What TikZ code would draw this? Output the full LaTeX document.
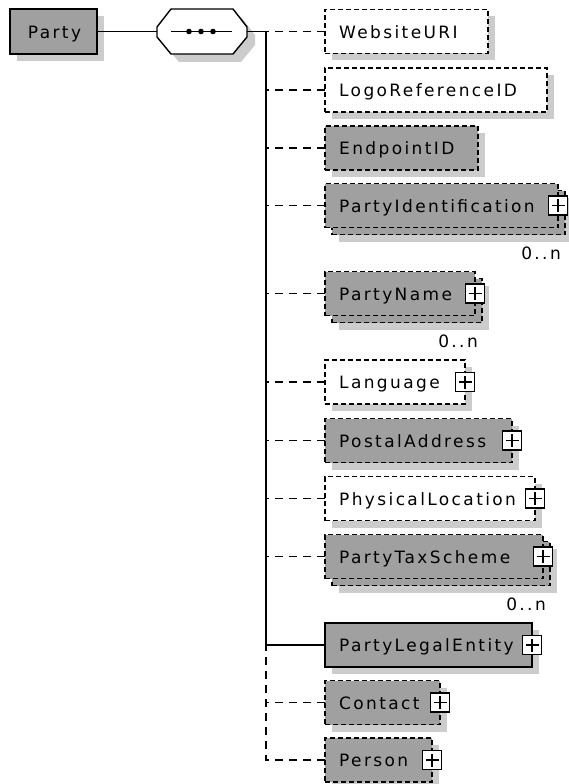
\documentclass[tikz,border=0pt]{standalone}
\usepackage{fontspec}
\newfontfamily\lblfont{DejaVu Sans}[LetterSpace=14]
\usetikzlibrary{calc}
\definecolor{boxgray}{RGB}{160,160,160}
\definecolor{shadgray}{RGB}{204,204,204}
\tikzset{
  base/.style={line width=1.3pt, minimum height=44pt, inner sep=0pt, outer sep=0pt},
  shadowbox/.style={base, fill=shadgray, draw=none},
  whitebox/.style={base, draw=black, fill=white, dash pattern=on 5pt off 3pt},
  graybox/.style={base, draw=black, fill=boxgray, dash pattern=on 5pt off 3pt},
  solidbox/.style={base, draw=black, fill=boxgray},
  lbl/.style={inner sep=0pt, font=\lblfont\fontsize{17}{20}\selectfont, text=black},
  conn/.style={line width=1.4pt},
  dconn/.style={line width=1.4pt, dash pattern=on 8pt off 6pt},
  plusbox/.style={draw=black, fill=white, line width=1.3pt, minimum size=19pt, inner sep=0pt},
}
\newcommand{\plusicon}[2]{%
  \node[plusbox] (#1) at (#2.east) {};
  \draw[line width=1.5pt] ([xshift=-6.5pt]#1.center) -- ([xshift=6.5pt]#1.center)
    ([yshift=-6.5pt]#1.center) -- ([yshift=6.5pt]#1.center);
}
\newcommand{\kidsingle}[5]{%
  \node[shadowbox, minimum width=#3pt, anchor=west] at (332,#2+7) {};
  \node[#4, minimum width=#3pt, anchor=west] (#1) at (325,#2) {};
  \node[lbl, anchor=base west] at ($(#1.west)+(14,6.5)$) {#5};
}
\newcommand{\kidmulti}[5]{%
  \node[shadowbox, minimum width=#3pt, anchor=west] at (339,#2+14) {};
  \node[#4, minimum width=#3pt, anchor=west] at (332,#2+7) {};
  \node[#4, minimum width=#3pt, anchor=west] (#1) at (325,#2) {};
  \node[lbl, anchor=base west] at ($(#1.west)+(14,6.5)$) {#5};
}
\begin{document}
\begin{tikzpicture}[x=1pt, y=-1pt]
\useasboundingbox[fill=white] (0,0) rectangle (568,784);
% Party
\node[shadowbox, minimum width=87pt, minimum height=45pt] at (60.5,38.5) {};
\node[solidbox, minimum width=87pt, minimum height=45pt, line width=1.6pt] (party) at (53.5,31.5) {};
\node[lbl, anchor=base] at ($(party.center)+(1,6.8)$) {Party};
% sequence compositor
\fill[shadgray] (179,17) -- (241,17) -- (255,35) -- (255,45) -- (241,62) -- (179,62) -- (165,45) -- (165,35) -- cycle;
\draw[line width=1.4pt, fill=white] (171,9) -- (233,9) -- (247,27) -- (247,37) -- (233,54) -- (171,54) -- (157,37) -- (157,27) -- cycle;
\node[minimum width=90pt, minimum height=45pt, inner sep=0pt, outer sep=0pt] (seq) at (202,31.5) {};
\draw[conn] (171,31.5) -- (232,31.5);
\foreach \d in {189,201,213} \fill (\d,31.5) circle (2.8);
\coordinate (bus) at (266,31.5);
% children
\kidsingle{web}{31.5}{163}{whitebox}{WebsiteURI}
\kidsingle{logo}{90}{222}{whitebox}{LogoReferenceID}
\kidsingle{endp}{148}{153}{graybox}{EndpointID}
\kidmulti{pid}{205.5}{233}{graybox}{PartyIdentification}
\plusicon{pidp}{pid}
\kidmulti{pname}{293.5}{150}{graybox}{PartyName}
\plusicon{pnamep}{pname}
\kidsingle{lang}{382}{140}{whitebox}{Language}
\plusicon{langp}{lang}
\kidsingle{post}{440.5}{187}{graybox}{PostalAddress}
\plusicon{postp}{post}
\kidsingle{phys}{498.5}{210}{whitebox}{PhysicalLocation}
\plusicon{physp}{phys}
\kidmulti{ptax}{556.5}{218}{graybox}{PartyTaxScheme}
\plusicon{ptaxp}{ptax}
\kidsingle{ple}{645}{207}{solidbox}{PartyLegalEntity}
\plusicon{plep}{ple}
\kidsingle{cont}{702.5}{115}{graybox}{Contact}
\plusicon{contp}{cont}
\kidsingle{pers}{760}{107}{graybox}{Person}
\plusicon{persp}{pers}
% cardinalities
\node[lbl, anchor=base east] at ($(pid.south east)+(3,32)$) {0..n};
\node[lbl, anchor=base east] at ($(pname.south east)+(3,32)$) {0..n};
\node[lbl, anchor=base east] at ($(ptax.south east)+(3,32)$) {0..n};
% connectors
\draw[conn] (party.east) -- (seq.west);
\draw[conn] (seq.east) -- (bus);
\draw[conn] (bus) -- (bus |- ple.west) -- (ple.west);
\foreach \n in {web,logo,endp,pid,pname,lang,post,phys,ptax,cont}
  \draw[dconn] (\n.west) -- (bus |- \n.west);
\draw[dconn] (pers.west) -- (bus |- pers.west) -- (bus |- ple.west);
\end{tikzpicture}
\end{document}
